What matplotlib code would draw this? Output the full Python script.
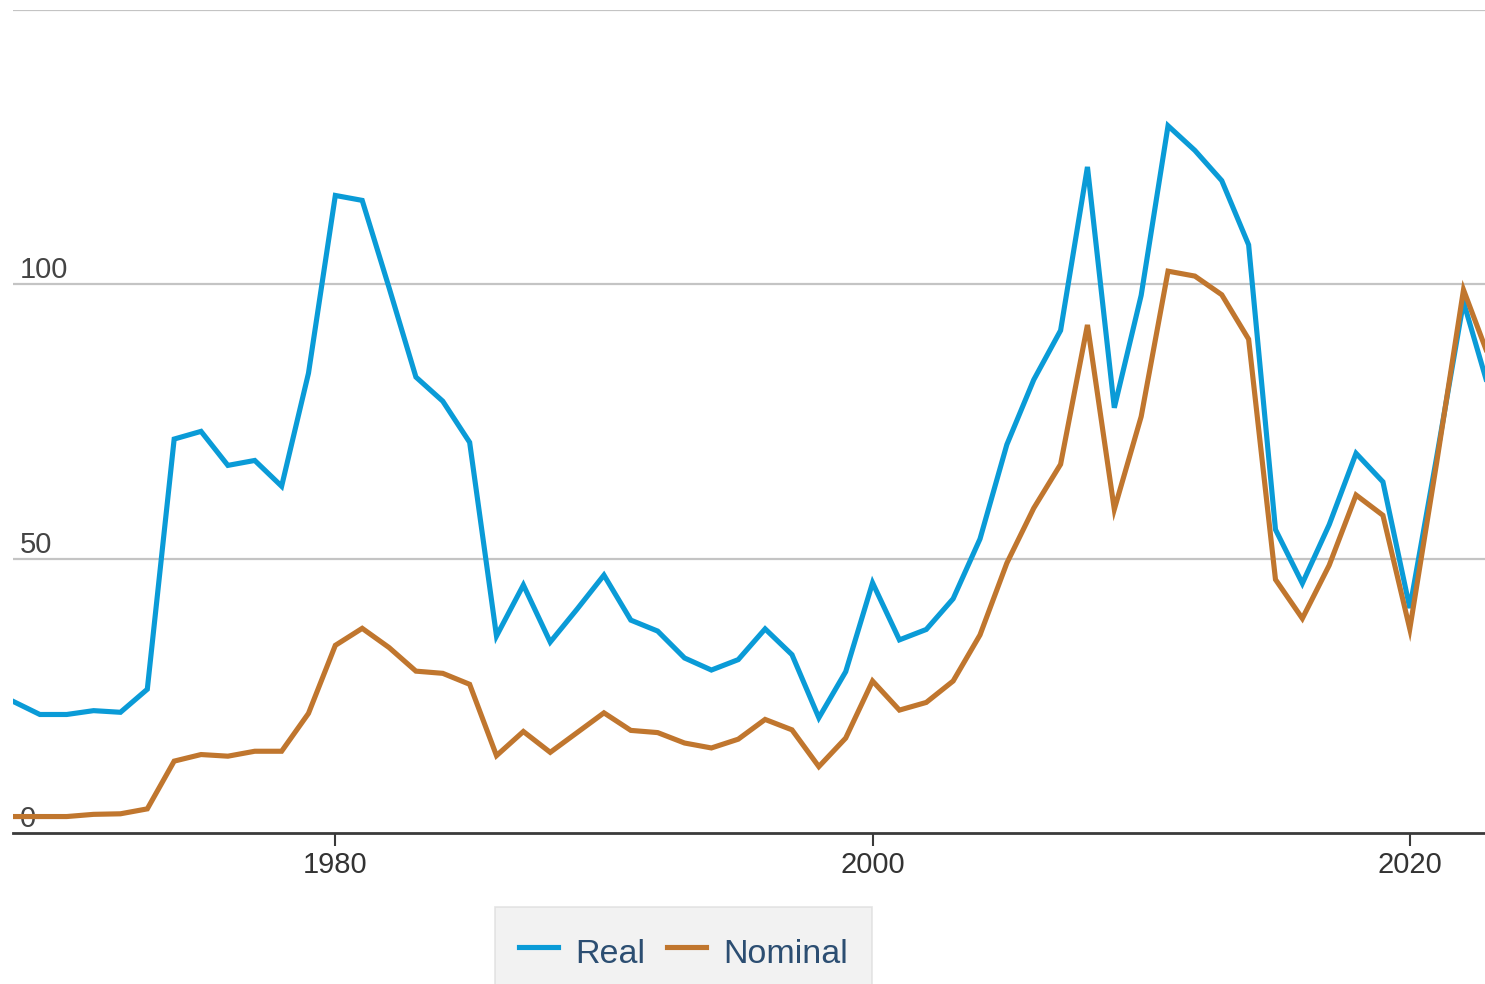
import matplotlib
matplotlib.use("Agg")
import matplotlib.pyplot as plt
from matplotlib.lines import Line2D

years = list(range(1968, 2024))
real = [24.0, 21.6, 21.6, 22.3, 22.0, 26.2, 71.8, 73.2, 67.0, 67.9,
        63.2, 83.8, 116.2, 115.3, 99.4, 83.1, 78.7, 71.2, 35.9, 45.2,
        34.8, 40.8, 47.0, 38.8, 36.8, 31.9, 29.7, 31.6, 37.2, 32.5,
        21.0, 29.4, 45.6, 35.2, 37.1, 42.7, 53.6, 70.8, 82.6, 91.6,
        121.4, 77.5, 98.0, 128.9, 124.4, 118.9, 107.2, 55.3, 45.5, 56.2,
        69.2, 64.0, 41.0, 68.5, 96.8, 80.0]
nominal = [3.0, 3.0, 3.0, 3.4, 3.5, 4.4, 13.1, 14.3, 14.0, 14.9,
           14.9, 21.8, 34.2, 37.3, 33.8, 29.5, 29.1, 27.1, 14.1, 18.5,
           14.7, 18.3, 21.9, 18.7, 18.3, 16.4, 15.5, 17.1, 20.7, 18.8,
           12.1, 17.3, 27.7, 22.4, 23.8, 27.7, 36.1, 49.2, 59.2, 67.2,
           92.6, 59.0, 75.9, 102.4, 101.5, 98.1, 90.0, 46.2, 39.1, 48.8,
           61.6, 57.9, 37.2, 67.5, 99.0, 86.0]
x_ticks = [1980, 2000, 2020]
y_ticks = [0, 50, 100]
series_names = ["Real", "Nominal"]
colors = ["#0a9bd7", "#c0762e"]

plt.rcParams["font.family"] = ["Liberation Sans", "DejaVu Sans"]

W, H = 1485, 984
fig = plt.figure(figsize=(W / 100, H / 100), dpi=100)
left, right, bottom, top = 13, 1485, 833, 10
ax = fig.add_axes([left / W, (H - bottom) / H, (right - left) / W, (bottom - top) / H])

ax.plot(years, real, color=colors[0], lw=3.7, solid_joinstyle="miter", zorder=3)
ax.plot(years, nominal, color=colors[1], lw=3.7, solid_joinstyle="miter", zorder=4)

ax.set_xlim(1968, 2022.8)
ax.set_ylim(0, 150)

for v in [50, 100, 150]:
    ax.axhline(v, color="#c4c4c4", lw=1.6, zorder=1)

for s in ["left", "right", "top"]:
    ax.spines[s].set_visible(False)
ax.spines["bottom"].set_color("#3a3a3a")
ax.spines["bottom"].set_linewidth(2.0)
ax.spines["bottom"].set_zorder(2)

ax.set_xticks(x_ticks)
ax.set_xticklabels([str(t) for t in x_ticks])
ax.tick_params(axis="x", length=9, width=1.5, color="#3a3a3a", pad=4,
               labelsize=21, labelcolor="#333333")

ax.set_yticks(y_ticks)
ax.set_yticklabels([str(t) for t in y_ticks])
ax.tick_params(axis="y", length=0, pad=-5, labelsize=21, labelcolor="#444444")
for lab in ax.get_yticklabels():
    lab.set_horizontalalignment("left")
    lab.set_verticalalignment("bottom")

handles = [Line2D([], [], color=c, lw=3.7) for c in colors]
leg = fig.legend(handles, series_names, loc="upper center",
                 bbox_to_anchor=(683.5 / W, (H - 907) / H), ncol=2,
                 fontsize=24.5, frameon=True, fancybox=False,
                 handlelength=1.15, handleheight=1.5, handletextpad=0.5,
                 columnspacing=0.65, borderpad=0.7, borderaxespad=0)
leg.get_frame().set_facecolor("#efefef")
leg.get_frame().set_edgecolor("#dedede")
leg.get_frame().set_linewidth(1.2)
for t in leg.get_texts():
    t.set_color("#2c4e72")

fig.savefig("out.png", dpi=100)
